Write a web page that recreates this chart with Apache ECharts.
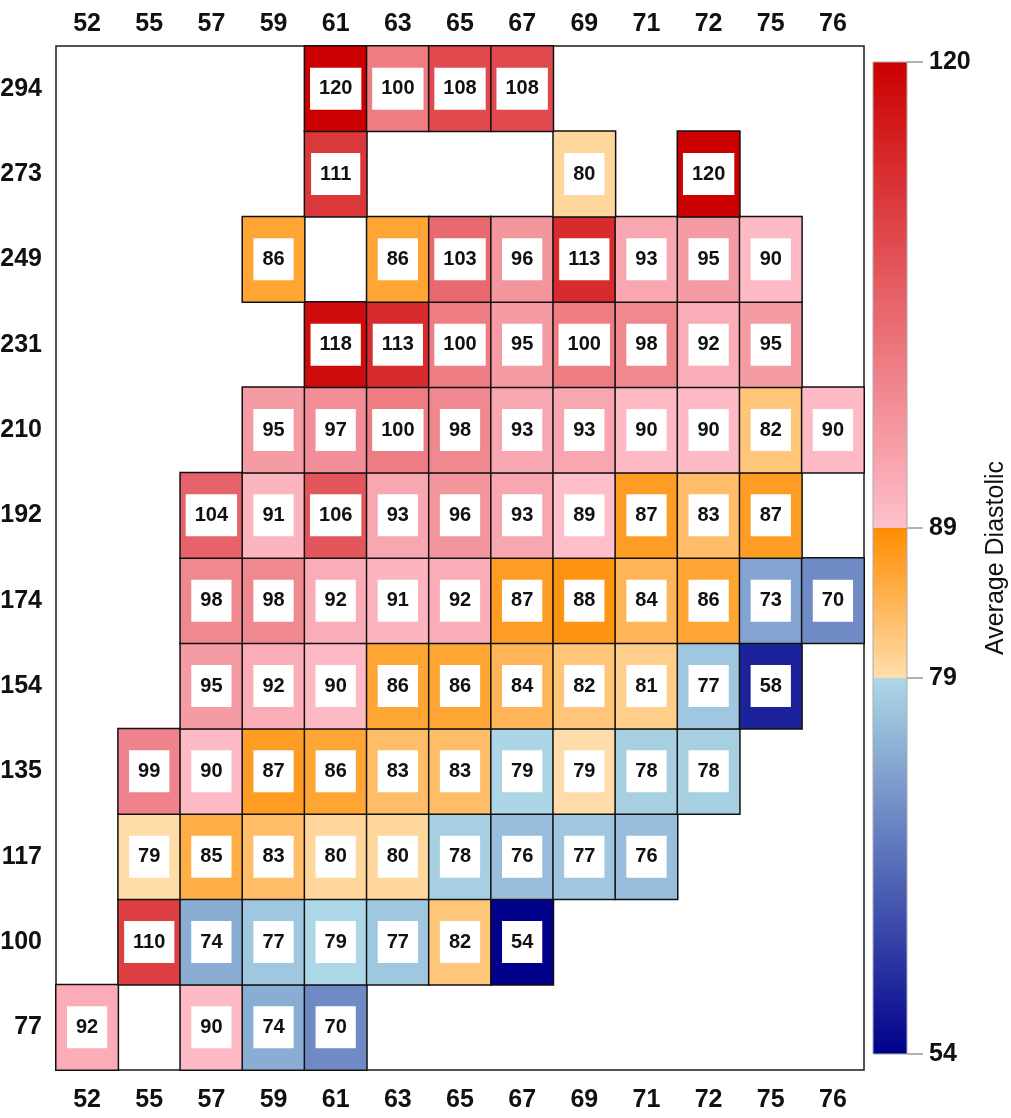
<!DOCTYPE html>
<html>
<head>
<meta charset="utf-8">
<script src="https://cdn.jsdelivr.net/npm/echarts@6/dist/echarts.min.js"></script>
<style>
html,body{margin:0;padding:0;background:#fff;}
#chart{width:1011px;height:1118px;}
</style>
</head>
<body>
<div id="chart"></div>
<script>
// ---- categories ----
const xCats = ['52','55','57','59','61','63','65','67','69','71','72','75','76'];
const yCats = ['77','100','117','135','154','174','192','210','231','249','273','294'];

// ---- values per y row (bottom to top), one entry per x category, null = no cell ----
const row77  = [92, null, 90, 74, 70, null, null, null, null, null, null, null, null];
const row100 = [null, 110, 74, 77, 78.9, 77, 82, 54, null, null, null, null, null];
const row117 = [null, 79.3, 85, 83, 80, 80, 78, 76, 77, 76, null, null, null];
const row135 = [null, 99, 90, 87, 86, 83, 83, 78.8, 79.2, 78, 78, null, null];
const row154 = [null, null, 95, 92, 90, 86, 86, 84, 82, 81, 77, 58, null];
const row174 = [null, null, 98, 98, 92, 91, 92, 87, 88, 84, 86, 73, 70];
const row192 = [null, null, 104, 91, 106, 93, 96, 93, 89.2, 87, 83, 87, null];
const row210 = [null, null, null, 95, 97, 100, 98, 93, 93, 90, 90, 82, 90];
const row231 = [null, null, null, null, 118, 113, 100, 95, 100, 98, 92, 95, null];
const row249 = [null, null, null, 86, null, 86, 103, 96, 113, 93, 95, 90, null];
const row273 = [null, null, null, null, 111, null, null, null, 80, null, 120, null, null];
const row294 = [null, null, null, null, 120, 100, 108, 108, null, null, null, null, null];
const rows = [row77, row100, row117, row135, row154, row174, row192, row210, row231, row249, row273, row294];

// ---- colour scale ----
const scaleBreaks = [54, 79, 89, 120];
const scaleTicks = [54, 79, 89, 120];
const pieceColors = [
  ['#00008B', '#ADD8E6'],
  ['#FFDEAD', '#FF8C00'],
  ['#FFC0CB', '#CC0000']
];
const legendTitle = 'Average Diastolic';

function hexToRgb(h){ return [parseInt(h.slice(1,3),16), parseInt(h.slice(3,5),16), parseInt(h.slice(5,7),16)]; }
function mix(c1, c2, t){
  const a = hexToRgb(c1), b = hexToRgb(c2);
  return 'rgb(' + a.map((v,i)=>Math.round(v + (b[i]-v)*t)).join(',') + ')';
}
function colorFor(v){
  for (let i = 0; i < pieceColors.length; i++){
    const lo = scaleBreaks[i], hi = scaleBreaks[i+1];
    if (v < hi || i === pieceColors.length - 1){
      const t = Math.max(0, Math.min(1, (v - lo) / (hi - lo)));
      return mix(pieceColors[i][0], pieceColors[i][1], t);
    }
  }
}

const heatData = [];
rows.forEach((r, yi) => r.forEach((v, xi) => {
  if (v !== null) heatData.push({ value: [xi, yi, v], itemStyle: { color: colorFor(v) } });
}));

const scaleMin = scaleBreaks[0], scaleMax = scaleBreaks[scaleBreaks.length - 1];
const gradStops = [];
pieceColors.forEach((pc, i) => {
  gradStops.push({ offset: (scaleBreaks[i] - scaleMin) / (scaleMax - scaleMin), color: pc[0] });
  gradStops.push({ offset: (scaleBreaks[i+1] - scaleMin) / (scaleMax - scaleMin), color: pc[1] });
});

const FONT = "'Liberation Sans', Arial, sans-serif";
const axisLabelStyle = { fontSize: 25, fontWeight: 'bold', color: '#111', fontFamily: FONT };

const chart = echarts.init(document.getElementById('chart'), null, { renderer: 'canvas' });
chart.setOption({
  animation: false,
  backgroundColor: '#fff',
  grid: [
    { left: 56, top: 46, width: 808, height: 1024, show: true, borderColor: '#1a1a1a', borderWidth: 1.5, backgroundColor: '#fff', outerBoundsMode: 'none' },
    { left: 873, top: 62, width: 34, height: 992, show: false, outerBoundsMode: 'none' }
  ],
  xAxis: [
    { gridIndex: 0, type: 'category', data: xCats, position: 'bottom',
      axisLine: { show: false }, axisTick: { show: false }, splitLine: { show: false },
      axisLabel: Object.assign({ margin: 18 }, axisLabelStyle) },
    { gridIndex: 0, type: 'category', data: xCats, position: 'top',
      axisLine: { show: false }, axisTick: { show: false }, splitLine: { show: false },
      axisLabel: Object.assign({ margin: 9 }, axisLabelStyle) },
    { gridIndex: 1, type: 'category', data: [''], show: false }
  ],
  yAxis: [
    { gridIndex: 0, type: 'category', data: yCats,
      axisLine: { show: false }, axisTick: { show: false }, splitLine: { show: false },
      axisLabel: Object.assign({ margin: 14 }, axisLabelStyle) },
    { gridIndex: 1, type: 'value', min: scaleMin, max: scaleMax, position: 'right',
      axisLine: { show: false }, splitLine: { show: false },
      axisTick: { show: true, customValues: scaleTicks, length: 16, lineStyle: { color: '#999', width: 1.5 } },
      axisLabel: Object.assign({ customValues: scaleTicks, margin: 22 }, axisLabelStyle),
      name: legendTitle, nameLocation: 'middle', nameGap: 77,
      nameTextStyle: { fontSize: 25, color: '#111', fontFamily: FONT } }
  ],
  series: [
    { type: 'heatmap', xAxisIndex: 0, yAxisIndex: 0, data: heatData,
      itemStyle: { borderColor: '#111', borderWidth: 1.5 },
      emphasis: { disabled: true },
      label: { show: true, formatter: p => String(Math.round(p.value[2])),
        backgroundColor: '#fff', padding: [11, 9], fontSize: 20, lineHeight: 20,
        fontWeight: 'bold', color: '#111', fontFamily: FONT } },
    { type: 'custom', xAxisIndex: 2, yAxisIndex: 1, silent: true,
      data: [[0, scaleMin, scaleMax]],
      renderItem: function (params, api) {
        const top = api.coord([api.value(0), api.value(2)]);
        const bot = api.coord([api.value(0), api.value(1)]);
        const w = api.size([1, 0])[0];
        return { type: 'rect',
          shape: { x: top[0] - w / 2, y: top[1], width: w, height: bot[1] - top[1] },
          style: { fill: new echarts.graphic.LinearGradient(0, 1, 0, 0, gradStops), stroke: '#aaa', lineWidth: 1 } };
      } }
  ]
});
</script>
</body>
</html>
